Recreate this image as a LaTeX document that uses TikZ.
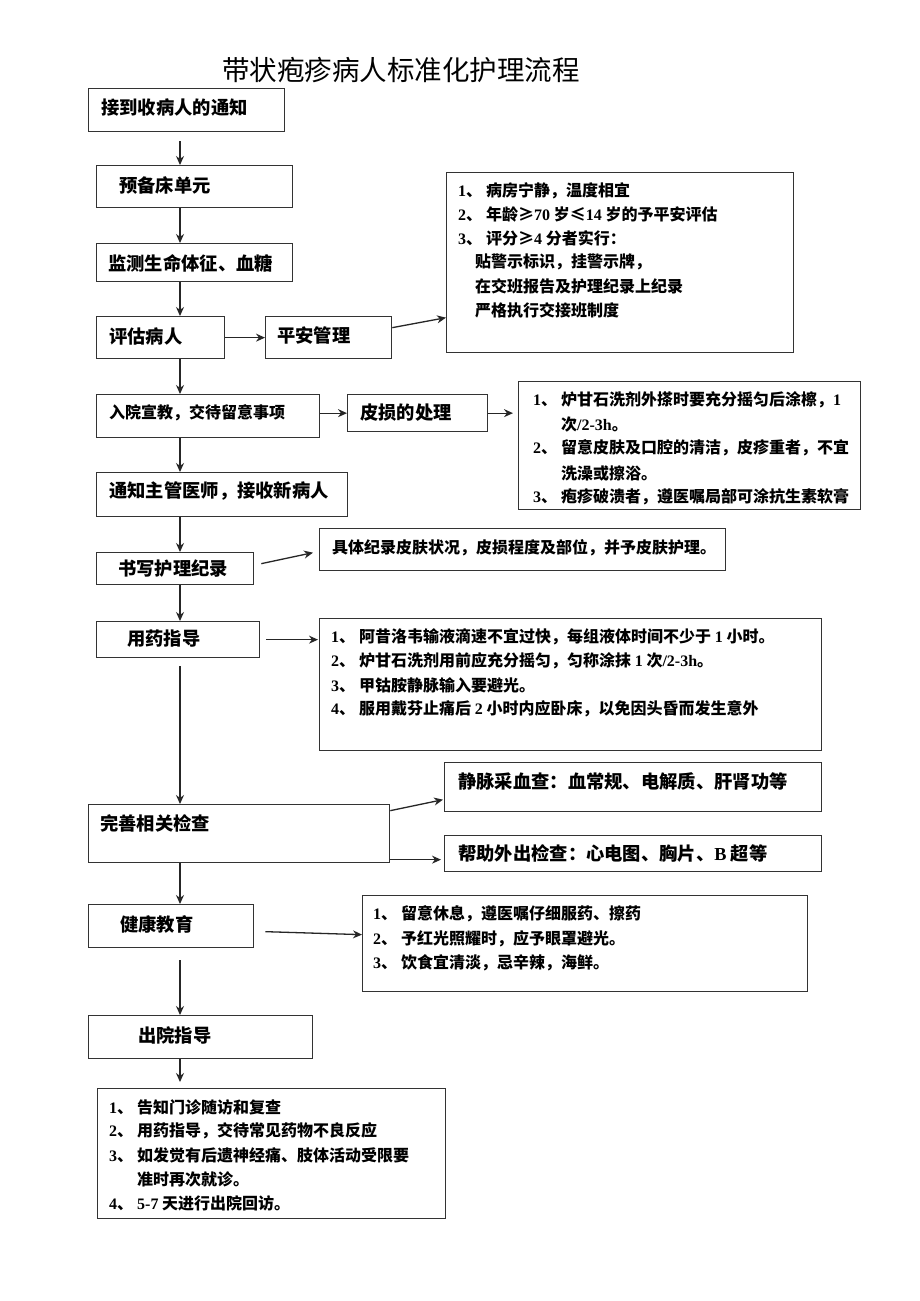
\documentclass[tikz,border=0pt]{standalone}
\usepackage{fontspec}
\setmainfont{Noto Sans CJK SC}
\newfontfamily\latf{Liberation Serif}
\usetikzlibrary{arrows.meta}
\newcommand\lt[1]{{\latf\bfseries #1}}
\newcommand\num[1]{\makebox[28pt][l]{\lt{#1}、}}
\newcommand\mybox[5]{\node[box,anchor=north west,minimum width=#4pt,minimum height=#5pt] (#1) at (#2,#3) {};}
\tikzset{
  box/.style={draw=black!80, line width=1.3pt, inner sep=0pt, fill=white},
  bt/.style={font=\bfseries\fontsize{18.3}{22}\selectfont, inner sep=0pt, anchor=west},
  bts/.style={font=\bfseries\fontsize{16}{20}\selectfont, inner sep=0pt, anchor=west},
  rt/.style={font=\bfseries\fontsize{16}{20}\selectfont, inner sep=0pt, anchor=west},
  arr/.style={draw=black!85, line width=1.3pt, -{Stealth[length=9pt,width=8pt]}}
}
\begin{document}
\begin{tikzpicture}[x=1pt,y=-1pt]
\path[use as bounding box, fill=white] (0,0) rectangle (920,1301);
\coordinate (sp) at (180,0);

\node[font=\fontsize{27.5}{33}\selectfont, anchor=west, inner sep=0pt] (title) at (222,70) {带状疱疹病人标准化护理流程};

% main column boxes
\mybox{B1}{88}{88}{196}{43}
\mybox{B2}{96}{165}{196}{42}
\mybox{B3}{96}{243}{196}{38}
\mybox{B4}{96}{316}{128}{42}
\mybox{B5}{265}{316}{126}{42}
\mybox{R1}{446}{172}{347}{180}
\mybox{B6}{96}{394}{223}{43}
\mybox{B7}{347}{394}{140}{37}
\mybox{R2}{518}{381}{342}{128}
\mybox{B8}{96}{472}{251}{44}
\mybox{B9}{96}{552}{157}{32}
\mybox{R3}{319}{528}{406}{42}
\mybox{B10}{96}{621}{163}{36}
\mybox{R4}{319}{618}{502}{132}
\mybox{B11}{88}{804}{301}{58}
\mybox{R5}{444}{762}{377}{49}
\mybox{R6}{444}{835}{377}{36}
\mybox{B12}{88}{904}{165}{43}
\mybox{R7}{362}{895}{445}{96}
\mybox{B13}{88}{1015}{224}{43}
\mybox{R8}{97}{1088}{348}{130}

% box texts
\node[bt] (t1) at (101,108) {接到收病人的通知};
\node[bt] (t2) at (119,185) {预备床单元};
\node[bt] (t3) at (108,263) {监测生命体征、血糖};
\node[bt] (t4) at (109,336) {评估病人};
\node[bt] (t5) at (277,336) {平安管理};
\node[bts] (t6) at (109,413) {入院宣教，交待留意事项};
\node[bt] (t7) at (360,413) {皮损的处理};
\node[bt] (t8) at (109,491) {通知主管医师，接收新病人};
\node[bt] (t9) at (118,569) {书写护理纪录};
\node[bt] (t10) at (127,639) {用药指导};
\node[bt] (t11) at (100,823) {完善相关检查};
\node[bt] (t12) at (120,924) {健康教育};
\node[bt] (t13) at (138,1035) {出院指导};

% R1
\node[rt] (r1a) at (458,191) {\num{1}病房宁静，温度相宜};
\node[rt] (r1b) at (458,214) {\num{2}年龄≥\lt{70} 岁≤\lt{14} 岁的予平安评估};
\node[rt] (r1c) at (458,238) {\num{3}评分≥\lt{4} 分者实行：};
\node[rt] (r1d) at (475,262) {贴警示标识，挂警示牌，};
\node[rt] (r1e) at (475,286) {在交班报告及护理纪录上纪录};
\node[rt] (r1f) at (475,310) {严格执行交接班制度};
% R2
\node[rt] (r2a) at (533,400) {\num{1}炉甘石洗剂外搽时要充分摇匀后涂檫，\lt{1}};
\node[rt] (r2b) at (561,425) {次\lt{/2-3h}。};
\node[rt] (r2c) at (533,448) {\num{2}留意皮肤及口腔的清洁，皮疹重者，不宜};
\node[rt] (r2d) at (561,473) {洗澡或擦浴。};
\node[rt] (r2e) at (533,497) {\num{3}疱疹破溃者，遵医嘱局部可涂抗生素软膏};
% R3
\node[rt] (r3a) at (332,548) {具体纪录皮肤状况，皮损程度及部位，并予皮肤护理。};
% R4
\node[rt] (r4a) at (331,637) {\num{1}阿昔洛韦输液滴速不宜过快，每组液体时间不少于 \lt{1} 小时。};
\node[rt] (r4b) at (331,661) {\num{2}炉甘石洗剂用前应充分摇匀，匀称涂抹 \lt{1} 次\lt{/2-3h}。};
\node[rt] (r4c) at (331,685) {\num{3}甲钴胺静脉输入要避光。};
\node[rt] (r4d) at (331,709) {\num{4}服用戴芬止痛后 \lt{2} 小时内应卧床，以免因头昏而发生意外};
% R5 R6
\node[bt] (r5a) at (458,781) {静脉采血查：血常规、电解质、肝肾功等};
\node[bt] (r6a) at (458,853) {帮助外出检查：心电图、胸片、\lt{B} 超等};
% R7
\node[rt] (r7a) at (373,914) {\num{1}留意休息，遵医嘱仔细服药、擦药};
\node[rt] (r7b) at (373,939) {\num{2}予红光照耀时，应予眼罩避光。};
\node[rt] (r7c) at (373,963) {\num{3}饮食宜清淡，忌辛辣，海鲜。};
% R8
\node[rt] (r8a) at (109,1107) {\num{1}告知门诊随访和复查};
\node[rt] (r8b) at (109,1131) {\num{2}用药指导，交待常见药物不良反应};
\node[rt] (r8c) at (109,1155) {\num{3}如发觉有后遗神经痛、肢体活动受限要};
\node[rt] (r8d) at (137,1179) {准时再次就诊。};
\node[rt] (r8e) at (109,1203) {\num{4}\lt{5-7} 天进行出院回访。};

% connectors
\draw[arr, shorten <=9pt] (B1.south -| sp) -- (B2.north -| sp);
\draw[arr] (B2.south -| sp) -- (B3.north -| sp);
\draw[arr] (B3.south -| sp) -- (B4.north -| sp);
\draw[arr] (B4.east) -- (B5.west);
\draw[arr] ([yshift=10pt]B5.east) -- ([yshift=-55pt]R1.west);
\draw[arr] (B4.south -| sp) -- (B6.north -| sp);
\draw[arr] (B7.west -| B6.east) -- (B7.west);
\draw[arr, shorten >=5pt] (B7.east) -- (R2.west |- B7.east);
\draw[arr] (B6.south -| sp) -- (B8.north -| sp);
\draw[arr] (B8.south -| sp) -- (B9.north -| sp);
\draw[arr] ([xshift=7pt,yshift=5pt]B9.east) -- ([xshift=-6pt,yshift=-3pt]R3.west);
\draw[arr] (B9.south -| sp) -- (B10.north -| sp);
\draw[arr, shorten <=6pt, shorten >=1pt] (B10.east) -- (R4.west |- B10.east);
\draw[arr, shorten <=8pt] (B10.south -| sp) -- (B11.north -| sp);
\draw[arr] ([yshift=23pt]B11.east) -- ([xshift=-1pt,yshift=-12.5pt]R5.west);
\draw[arr] ([yshift=-26pt]B11.east) -- ([xshift=-3pt,yshift=-6pt]R6.west);
\draw[arr] (B11.south -| sp) -- (B12.north -| sp);
\draw[arr] ([xshift=11pt,yshift=-5.5pt]B12.east) -- ([yshift=9pt]R7.west);
\draw[arr, shorten <=12pt] (B12.south -| sp) -- (B13.north -| sp);
\draw[arr, shorten >=6pt] (B13.south -| sp) -- (R8.north -| sp);
\end{tikzpicture}
\end{document}
